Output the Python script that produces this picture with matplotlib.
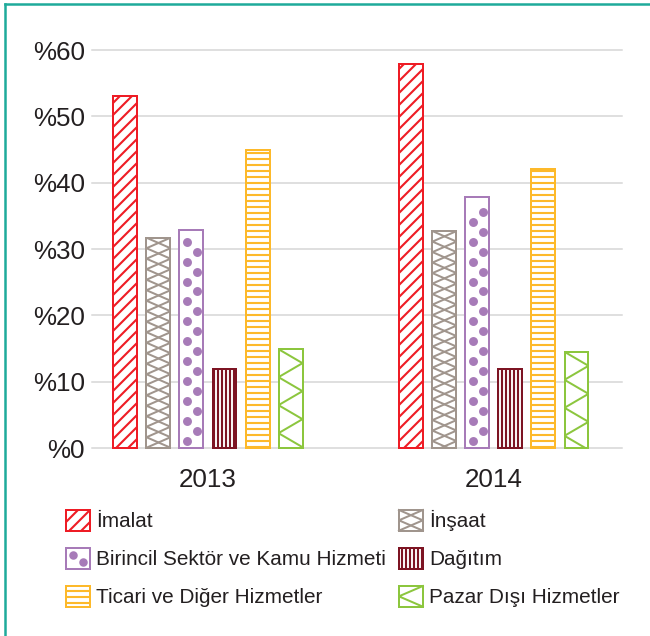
import numpy as np
import matplotlib
matplotlib.use('Agg')
import matplotlib.pyplot as plt
from matplotlib.patches import Rectangle
from matplotlib.lines import Line2D
from matplotlib.legend_handler import HandlerBase

# Sector shares of value added
years = ['2013', '2014']
categories = ['İmalat', 'İnşaat', 'Birincil Sektör ve Kamu Hizmeti',
              'Dağıtım', 'Ticari ve Diğer Hizmetler', 'Pazar Dışı Hizmetler']
values_2013 = [53.0, 31.7, 32.8, 11.9, 44.9, 14.9]
values_2014 = [57.9, 32.7, 37.9, 11.9, 42.1, 14.5]
yticks = [0, 10, 20, 30, 40, 50, 60]

colors = ['#ee1c25', '#a0958d', '#a77bb8', '#7d1423', '#fdb92a', '#8cc63e']
# texture kind and hatch string for each sector
textures = [('hatch', '//'), ('xzig', None), ('dots', None),
            ('hatch', '|||'), ('hatch', '--'), ('zig', None)]

TEXT = '#231f20'
DPI = 72
plt.rcParams['font.family'] = ['Liberation Sans', 'DejaVu Sans']
plt.rcParams['hatch.linewidth'] = 2.1


def zigzag(x0, x1, ytop, ybot, half, start_left=True):
    '''Vertices of a zigzag from top to bottom bouncing between x0 and x1.'''
    ys = [ytop]
    y = ytop
    while y > ybot:
        y -= half
        ys.append(y)
    xs = [(x0 if (k % 2 == 0) == start_left else x1) for k in range(len(ys))]
    return xs, ys


class TextureHandler(HandlerBase):
    def __init__(self, kind, color, hatch):
        super().__init__()
        self.kind, self.color, self.hatch = kind, color, hatch

    def create_artists(self, legend, orig_handle, xdescent, ydescent,
                       width, height, fontsize, trans):
        x0, y0 = -xdescent, -ydescent
        arts = [Rectangle((x0, y0), width, height, facecolor='white',
                          edgecolor=self.color, hatch=self.hatch,
                          linewidth=2, transform=trans)]
        if self.kind == 'zig':
            xs, ys = zigzag(x0 + width, x0, y0 + height, y0 + 0.1, height / 2)
            arts.append(Line2D(xs, ys, color=self.color, lw=2, transform=trans))
        elif self.kind == 'xzig':
            for left in (True, False):
                xs, ys = zigzag(x0, x0 + width, y0 + height, y0 + 0.1,
                                height / 2, left)
                arts.append(Line2D(xs, ys, color=self.color, lw=2,
                                   transform=trans))
        elif self.kind == 'dots':
            arts.append(Line2D([x0 + width * 0.3, x0 + width * 0.7],
                               [y0 + height * 0.68, y0 + height * 0.3],
                               ls='none', marker='o', ms=8.5, mew=0,
                               color=self.color, transform=trans))
        return arts


fig = plt.figure(figsize=(650 / DPI, 636 / DPI), dpi=DPI)
ax = fig.add_axes([92 / 650, 188 / 636, 530 / 650, 398 / 636])

values = np.array([values_2013, values_2014])
x = np.arange(len(years))
step = 0.1154
width = 0.0839
px_per_unit = 398 / 60.0

proxies = []
handlers = {}
for i, cat in enumerate(categories):
    kind, hatch = textures[i]
    bars = ax.bar(x + (i - 2.5) * step, values[:, i], width,
                  facecolor='white', edgecolor=colors[i], linewidth=2,
                  hatch=hatch, zorder=2, clip_on=False)
    for rect in bars:
        x0, w, h = rect.get_x(), rect.get_width(), rect.get_height()
        if kind == 'zig':
            xs, ys = zigzag(x0, x0 + w, h, 0, 14 / px_per_unit)
            ln, = ax.plot(xs, ys, color=colors[i], lw=2, zorder=3)
            ln.set_clip_path(rect)
        elif kind == 'xzig':
            for left in (True, False):
                xs, ys = zigzag(x0, x0 + w, h, 0, 10.5 / px_per_unit, left)
                ln, = ax.plot(xs, ys, color=colors[i], lw=2, zorder=3)
                ln.set_clip_path(rect)
        elif kind == 'dots':
            dy = np.arange(1.1, h - 1.3, 1.5)
            dx = np.where(np.arange(len(dy)) % 2 == 0, x0 + 0.33 * w,
                          x0 + 0.72 * w)
            ax.scatter(dx, dy, s=80, color=colors[i], linewidths=0, zorder=3)
    proxy = Rectangle((0, 0), 1, 1, label=cat)
    proxies.append(proxy)
    handlers[proxy] = TextureHandler(kind, colors[i], hatch)

ax.set_xlim(-0.4056, 1.4476)
ax.set_ylim(0, 60)
ax.set_yticks(yticks)
ax.set_yticklabels(['%' + str(t) for t in yticks])
ax.set_xticks(x)
ax.set_xticklabels(years)
ax.tick_params(axis='both', length=0, labelsize=26, labelcolor=TEXT)
ax.tick_params(axis='y', pad=7)
ax.tick_params(axis='x', pad=20)
for s in ax.spines.values():
    s.set_visible(False)
ax.set_axisbelow(True)
ax.yaxis.grid(True, color='#d5d5d5', linewidth=1.5)
ax.xaxis.grid(False)
for gl in ax.get_ygridlines():
    gl.set_clip_on(False)

# legend: column-wise fill, so left column first
order = [0, 2, 4, 1, 3, 5]
fig.legend([proxies[k] for k in order], [categories[k] for k in order],
           handler_map=handlers, ncol=2, loc='upper left',
           bbox_to_anchor=(66 / 650, 1 - 510 / 636), frameon=False,
           fontsize=20.8, labelcolor=TEXT, handlelength=1.15,
           handleheight=1.15, handletextpad=0.3, columnspacing=0.62,
           labelspacing=0.8, borderpad=0, borderaxespad=0)

# teal frame on top and left edges
teal = '#1eaa9b'
fig.add_artist(Line2D([5 / 650, 1], [1 - 4 / 636, 1 - 4 / 636], color=teal,
                      lw=2.5, transform=fig.transFigure))
fig.add_artist(Line2D([5 / 650, 5 / 650], [0, 1 - 4 / 636], color=teal,
                      lw=2.5, transform=fig.transFigure))

fig.savefig('out.png', dpi=DPI, facecolor='white')
